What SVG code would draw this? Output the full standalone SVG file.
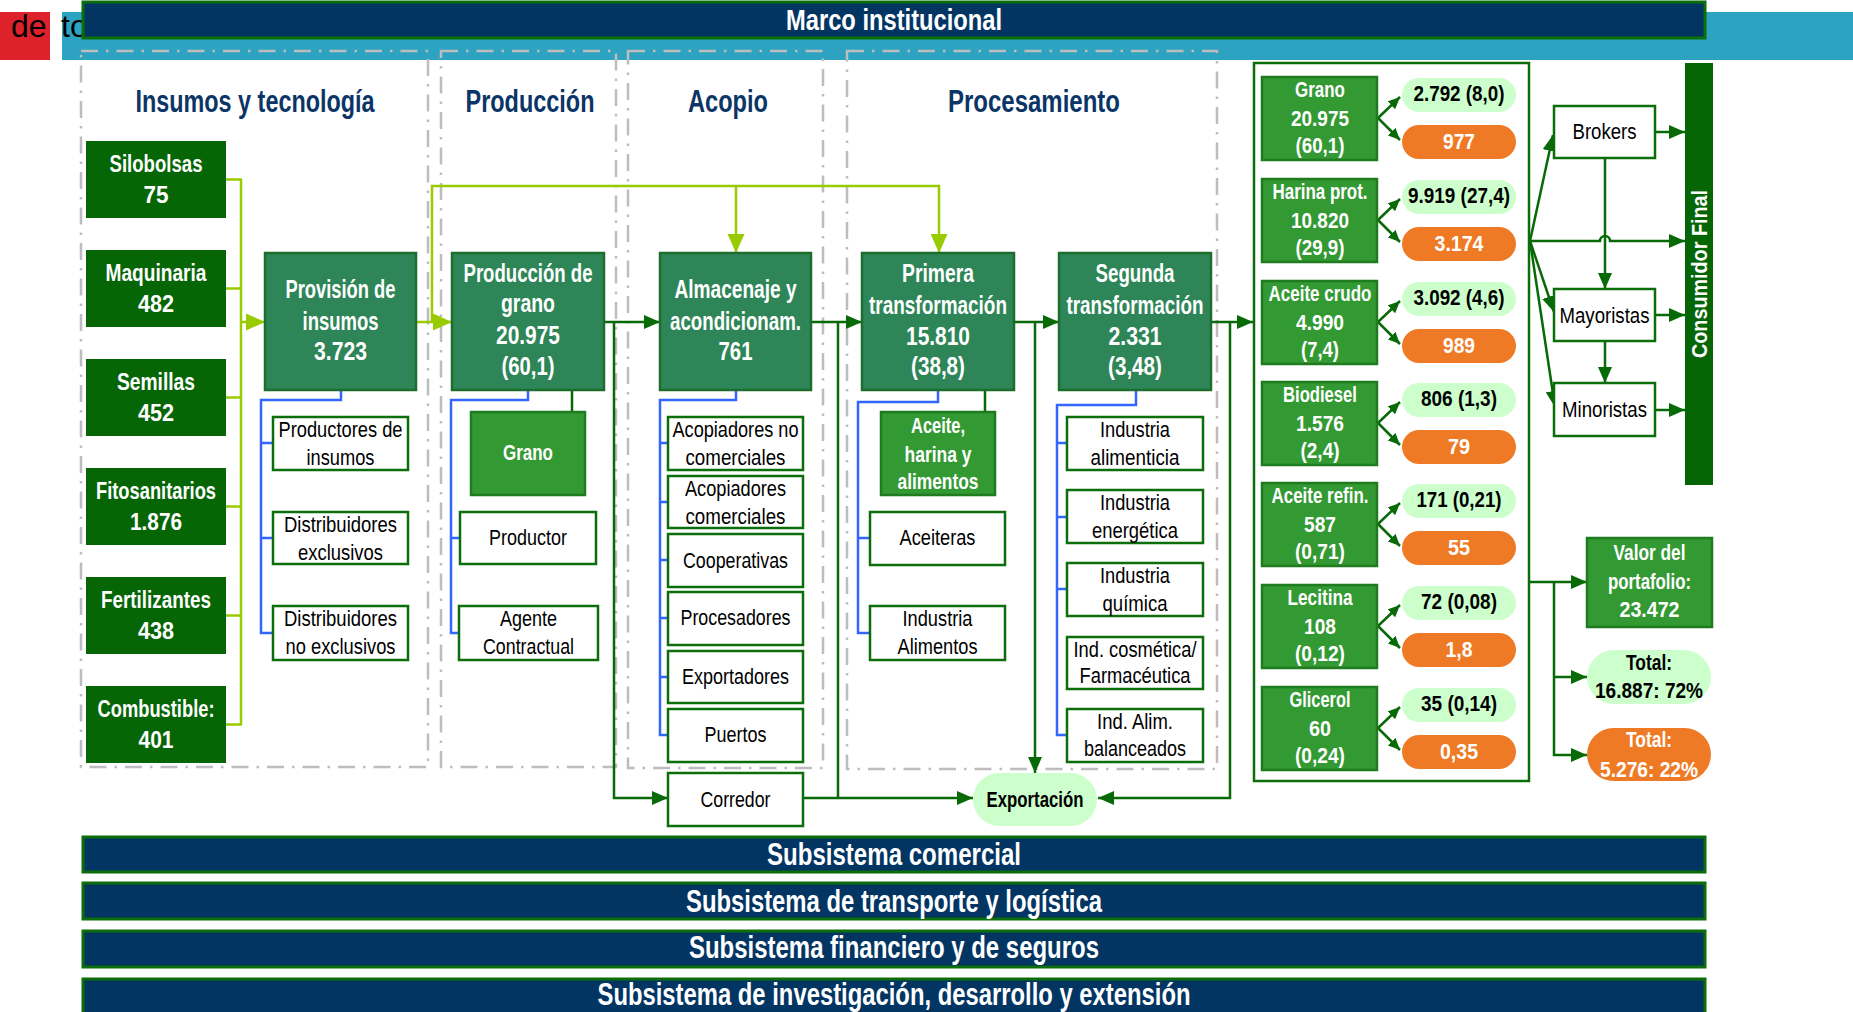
<svg xmlns="http://www.w3.org/2000/svg" width="1853" height="1012" viewBox="0 0 1853 1012">
<defs>
<style>
text{font-family:"Liberation Sans",Arial,Helvetica,sans-serif;text-anchor:middle}
.wt{fill:#fff;font-weight:bold}
.kt{fill:#000}
.kb{fill:#000;font-weight:bold}
.hd{fill:#0b3566;font-weight:bold;font-size:31px}
.bt{fill:#fff;font-weight:bold;font-size:32px}
.f21{font-size:21px}.f22{font-size:22px}.f24{font-size:24px}.f26{font-size:26px}
.bar{fill:#033563;stroke:#0b6e0b;stroke-width:3}
.frame{fill:none;stroke:#bdbdbd;stroke-width:2.5;stroke-dasharray:17 8 2.5 8}
.inp{fill:#066606}
.main{fill:#2e8658;stroke:#1d6e2c;stroke-width:2.5}
.med{fill:#339933;stroke:#1e7b1e;stroke-width:2.5}
.sub{fill:#fff;stroke:#0b6e0b;stroke-width:2.5}
.pg{fill:#ccffcc}
.po{fill:#ef7a25}
.cg{fill:none;stroke:#076a07;stroke-width:2.5}
.cl{fill:none;stroke:#99cc00;stroke-width:2.5}
.cb{fill:none;stroke:#3366ff;stroke-width:2.5}
</style>
<marker id="ag" viewBox="0 0 16 14" refX="16" refY="7" markerWidth="16" markerHeight="14" markerUnits="userSpaceOnUse" orient="auto"><path d="M0,0L16,7L0,14z" fill="#076a07"/></marker>
<marker id="as" viewBox="0 0 12 11" refX="12" refY="5.5" markerWidth="12" markerHeight="11" markerUnits="userSpaceOnUse" orient="auto"><path d="M0,0L12,5.5L0,11z" fill="#076a07"/></marker>
<marker id="al" viewBox="0 0 19 17" refX="19" refY="8.5" markerWidth="19" markerHeight="17" markerUnits="userSpaceOnUse" orient="auto"><path d="M0,0L19,8.5L0,17z" fill="#99cc00"/></marker>
</defs>

<!-- page strip behind the title bar -->
<rect x="0" y="12" width="50" height="48" fill="#dd222b"/>
<rect x="62" y="12" width="1791" height="48" fill="#2da3c1"/>
<text x="11" y="37" font-size="32" style="text-anchor:start" fill="#000">de<tspan x="61">todos</tspan></text>

<!-- stage frames -->
<g id="frames">
<rect class="frame" x="81" y="51" width="347" height="716"/>
<rect class="frame" x="441" y="51" width="175" height="716"/>
<rect class="frame" x="628" y="51" width="195" height="717"/>
<rect class="frame" x="847" y="51" width="370" height="718"/>
</g>

<!-- title bar -->
<g id="marco">
<rect class="bar" x="83" y="2" width="1622" height="36"/>
<text class="wt" x="894" y="30" font-size="30" textLength="216" lengthAdjust="spacingAndGlyphs">Marco institucional</text>
</g>

<!-- column headings -->
<g id="headings">
<text class="hd" x="255" y="112" textLength="239" lengthAdjust="spacingAndGlyphs">Insumos y tecnología</text>
<text class="hd" x="530" y="112" textLength="129" lengthAdjust="spacingAndGlyphs">Producción</text>
<text class="hd" x="728" y="112" textLength="80" lengthAdjust="spacingAndGlyphs">Acopio</text>
<text class="hd" x="1034" y="112" textLength="172" lengthAdjust="spacingAndGlyphs">Procesamiento</text>
</g>

<!-- connectors -->
<g id="connectors">
<!-- inputs bus -->
<path class="cl" d="M226,179.5H241M226,288.5H241M226,397.5H241M226,506.5H241M226,615.5H241M226,724.5H241M241,178.5V725.5"/>
<path class="cl" d="M241,322H265" marker-end="url(#al)"/>
<path class="cl" d="M416,322H452" marker-end="url(#al)"/>
<path class="cl" d="M432,322V186H939V253" marker-end="url(#al)"/>
<path class="cl" d="M736,186V253" marker-end="url(#al)"/>
<!-- main chain -->
<path class="cg" d="M604,322H660" marker-end="url(#ag)"/>
<path class="cg" d="M614,322V798H668" marker-end="url(#ag)"/>
<path class="cg" d="M811,322H862" marker-end="url(#ag)"/>
<path class="cg" d="M838,322V798"/>
<path class="cg" d="M803,798H973" marker-end="url(#ag)"/>
<path class="cg" d="M1014,322H1059" marker-end="url(#ag)"/>
<path class="cg" d="M1035,322V773" marker-end="url(#ag)"/>
<path class="cg" d="M1211,322H1253" marker-end="url(#ag)"/>
<path class="cg" d="M1230,322V798H1098" marker-end="url(#ag)"/>
<path class="cg" d="M572,390V412M985,390V412"/>
<!-- actor trees -->
<path class="cb" d="M341,390V400H261V633H273M261,443H273M261,538H273"/>
<path class="cb" d="M528,390V400H451V633H459M451,538H460"/>
<path class="cb" d="M736,390V400H660V735H668M660,443H668M660,502H668M660,560H668M660,618H668M660,677H668"/>
<path class="cb" d="M938,390V402H858V633H870M858,538H870"/>
<path class="cb" d="M1136,390V405H1057V735H1067M1057,443H1067M1057,517H1067M1057,589H1067"/>
<!-- product splits -->
<g class="cg">
<path d="M1378,118L1400,97" marker-end="url(#as)"/><path d="M1378,118L1400,140" marker-end="url(#as)"/>
<path d="M1378,220L1400,199" marker-end="url(#as)"/><path d="M1378,220L1400,242" marker-end="url(#as)"/>
<path d="M1378,322L1400,301" marker-end="url(#as)"/><path d="M1378,322L1400,344" marker-end="url(#as)"/>
<path d="M1378,423L1400,402" marker-end="url(#as)"/><path d="M1378,423L1400,445" marker-end="url(#as)"/>
<path d="M1378,524L1400,503" marker-end="url(#as)"/><path d="M1378,524L1400,546" marker-end="url(#as)"/>
<path d="M1378,626L1400,605" marker-end="url(#as)"/><path d="M1378,626L1400,648" marker-end="url(#as)"/>
<path d="M1378,728L1400,707" marker-end="url(#as)"/><path d="M1378,728L1400,750" marker-end="url(#as)"/>
</g>
<!-- distribution -->
<path class="cg" d="M1530,241L1553,135" marker-end="url(#ag)"/>
<path class="cg" d="M1530,241L1554,312" marker-end="url(#ag)"/>
<path class="cg" d="M1530,241L1555,407" marker-end="url(#ag)"/>
<path class="cg" d="M1530,241H1600a5,5 0 0 1 10,0H1685" marker-end="url(#ag)"/>
<path class="cg" d="M1605,158V289" marker-end="url(#ag)"/>
<path class="cg" d="M1605,341V383" marker-end="url(#ag)"/>
<path class="cg" d="M1655,132H1685" marker-end="url(#ag)"/>
<path class="cg" d="M1655,315H1685" marker-end="url(#ag)"/>
<path class="cg" d="M1655,410H1685" marker-end="url(#ag)"/>
<path class="cg" d="M1530,582H1587" marker-end="url(#ag)"/>
<path class="cg" d="M1554,582V755H1587" marker-end="url(#ag)"/>
<path class="cg" d="M1554,677H1587" marker-end="url(#ag)"/>
</g>

<!-- inputs -->
<g id="silobolsas"><rect class="inp" x="86" y="141" width="140" height="77"/><text class="wt f24" x="156" y="172" textLength="93" lengthAdjust="spacingAndGlyphs">Silobolsas</text><text class="wt f24" x="156" y="203" textLength="25" lengthAdjust="spacingAndGlyphs">75</text></g>
<g id="maquinaria"><rect class="inp" x="86" y="250" width="140" height="77"/><text class="wt f24" x="156" y="281" textLength="101" lengthAdjust="spacingAndGlyphs">Maquinaria</text><text class="wt f24" x="156" y="312" textLength="36" lengthAdjust="spacingAndGlyphs">482</text></g>
<g id="semillas"><rect class="inp" x="86" y="359" width="140" height="77"/><text class="wt f24" x="156" y="390" textLength="78" lengthAdjust="spacingAndGlyphs">Semillas</text><text class="wt f24" x="156" y="421" textLength="36" lengthAdjust="spacingAndGlyphs">452</text></g>
<g id="fitosanitarios"><rect class="inp" x="86" y="468" width="140" height="77"/><text class="wt f24" x="156" y="499" textLength="120" lengthAdjust="spacingAndGlyphs">Fitosanitarios</text><text class="wt f24" x="156" y="530" textLength="52" lengthAdjust="spacingAndGlyphs">1.876</text></g>
<g id="fertilizantes"><rect class="inp" x="86" y="577" width="140" height="77"/><text class="wt f24" x="156" y="608" textLength="110" lengthAdjust="spacingAndGlyphs">Fertilizantes</text><text class="wt f24" x="156" y="639" textLength="36" lengthAdjust="spacingAndGlyphs">438</text></g>
<g id="combustible"><rect class="inp" x="86" y="686" width="140" height="77"/><text class="wt f24" x="156" y="717" textLength="117" lengthAdjust="spacingAndGlyphs">Combustible:</text><text class="wt f24" x="156" y="748" textLength="35" lengthAdjust="spacingAndGlyphs">401</text></g>

<!-- main stages -->
<g id="provision"><rect class="main" x="265" y="253" width="151" height="137"/>
<text class="wt f26" x="340.5" y="298" textLength="110" lengthAdjust="spacingAndGlyphs">Provisión de</text>
<text class="wt f26" x="340.5" y="330" textLength="76" lengthAdjust="spacingAndGlyphs">insumos</text>
<text class="wt f26" x="340.5" y="360" textLength="53" lengthAdjust="spacingAndGlyphs">3.723</text></g>
<g id="produccion"><rect class="main" x="452" y="253" width="152" height="137"/>
<text class="wt f26" x="528" y="282" textLength="129" lengthAdjust="spacingAndGlyphs">Producción de</text>
<text class="wt f26" x="528" y="312" textLength="54" lengthAdjust="spacingAndGlyphs">grano</text>
<text class="wt f26" x="528" y="344" textLength="64" lengthAdjust="spacingAndGlyphs">20.975</text>
<text class="wt f26" x="528" y="375" textLength="53" lengthAdjust="spacingAndGlyphs">(60,1)</text></g>
<g id="almacenaje"><rect class="main" x="660" y="253" width="151" height="137"/>
<text class="wt f26" x="735.5" y="298" textLength="122" lengthAdjust="spacingAndGlyphs">Almacenaje y</text>
<text class="wt f26" x="735.5" y="330" textLength="131" lengthAdjust="spacingAndGlyphs">acondicionam.</text>
<text class="wt f26" x="735.5" y="360" textLength="34" lengthAdjust="spacingAndGlyphs">761</text></g>
<g id="primera"><rect class="main" x="862" y="253" width="152" height="137"/>
<text class="wt f26" x="938" y="282" textLength="72" lengthAdjust="spacingAndGlyphs">Primera</text>
<text class="wt f26" x="938" y="314" textLength="138" lengthAdjust="spacingAndGlyphs">transformación</text>
<text class="wt f26" x="938" y="345" textLength="64" lengthAdjust="spacingAndGlyphs">15.810</text>
<text class="wt f26" x="938" y="375" textLength="54" lengthAdjust="spacingAndGlyphs">(38,8)</text></g>
<g id="segunda"><rect class="main" x="1059" y="253" width="152" height="137"/>
<text class="wt f26" x="1135" y="282" textLength="79" lengthAdjust="spacingAndGlyphs">Segunda</text>
<text class="wt f26" x="1135" y="314" textLength="137" lengthAdjust="spacingAndGlyphs">transformación</text>
<text class="wt f26" x="1135" y="345" textLength="53" lengthAdjust="spacingAndGlyphs">2.331</text>
<text class="wt f26" x="1135" y="375" textLength="54" lengthAdjust="spacingAndGlyphs">(3,48)</text></g>

<!-- actors: inputs -->
<g id="productores-insumos"><rect class="sub" x="273" y="417" width="135" height="53"/><text class="kt f22" x="340.5" y="437" textLength="124" lengthAdjust="spacingAndGlyphs">Productores de</text><text class="kt f22" x="340.5" y="465" textLength="68" lengthAdjust="spacingAndGlyphs">insumos</text></g>
<g id="distribuidores-exclusivos"><rect class="sub" x="273" y="512" width="135" height="52"/><text class="kt f22" x="340.5" y="532" textLength="113" lengthAdjust="spacingAndGlyphs">Distribuidores</text><text class="kt f22" x="340.5" y="560" textLength="85" lengthAdjust="spacingAndGlyphs">exclusivos</text></g>
<g id="distribuidores-no-exclusivos"><rect class="sub" x="273" y="606" width="135" height="54"/><text class="kt f22" x="340.5" y="626" textLength="113" lengthAdjust="spacingAndGlyphs">Distribuidores</text><text class="kt f22" x="340.5" y="654" textLength="110" lengthAdjust="spacingAndGlyphs">no exclusivos</text></g>

<!-- actors: production -->
<g id="grano-prod"><rect class="med" x="471" y="412" width="114" height="83"/><text class="wt f22" x="528" y="460" textLength="50" lengthAdjust="spacingAndGlyphs">Grano</text></g>
<g id="productor"><rect class="sub" x="460" y="512" width="136" height="52"/><text class="kt f22" x="528" y="545" textLength="78" lengthAdjust="spacingAndGlyphs">Productor</text></g>
<g id="agente"><rect class="sub" x="459" y="606" width="139" height="54"/><text class="kt f22" x="528.5" y="626" textLength="57" lengthAdjust="spacingAndGlyphs">Agente</text><text class="kt f22" x="528.5" y="654" textLength="91" lengthAdjust="spacingAndGlyphs">Contractual</text></g>

<!-- actors: storage -->
<g id="acopiadores-no-comerciales"><rect class="sub" x="668" y="417" width="135" height="53"/><text class="kt f22" x="735.5" y="437" textLength="126" lengthAdjust="spacingAndGlyphs">Acopiadores no</text><text class="kt f22" x="735.5" y="465" textLength="100" lengthAdjust="spacingAndGlyphs">comerciales</text></g>
<g id="acopiadores-comerciales"><rect class="sub" x="668" y="476" width="135" height="52"/><text class="kt f22" x="735.5" y="496" textLength="101" lengthAdjust="spacingAndGlyphs">Acopiadores</text><text class="kt f22" x="735.5" y="524" textLength="100" lengthAdjust="spacingAndGlyphs">comerciales</text></g>
<g id="cooperativas"><rect class="sub" x="668" y="534" width="135" height="53"/><text class="kt f22" x="735.5" y="568" textLength="105" lengthAdjust="spacingAndGlyphs">Cooperativas</text></g>
<g id="procesadores"><rect class="sub" x="668" y="592" width="135" height="53"/><text class="kt f22" x="735.5" y="625" textLength="110" lengthAdjust="spacingAndGlyphs">Procesadores</text></g>
<g id="exportadores"><rect class="sub" x="668" y="651" width="135" height="52"/><text class="kt f22" x="735.5" y="684" textLength="107" lengthAdjust="spacingAndGlyphs">Exportadores</text></g>
<g id="puertos"><rect class="sub" x="668" y="709" width="135" height="53"/><text class="kt f22" x="735.5" y="742" textLength="62" lengthAdjust="spacingAndGlyphs">Puertos</text></g>
<g id="corredor"><rect class="sub" x="668" y="773" width="135" height="53"/><text class="kt f22" x="735.5" y="807" textLength="70" lengthAdjust="spacingAndGlyphs">Corredor</text></g>

<!-- actors: first processing -->
<g id="aceite-harina"><rect class="med" x="881" y="412" width="114" height="83"/>
<text class="wt f22" x="938" y="433" textLength="54" lengthAdjust="spacingAndGlyphs">Aceite,</text>
<text class="wt f22" x="938" y="462" textLength="67" lengthAdjust="spacingAndGlyphs">harina y</text>
<text class="wt f22" x="938" y="489" textLength="81" lengthAdjust="spacingAndGlyphs">alimentos</text></g>
<g id="aceiteras"><rect class="sub" x="870" y="512" width="135" height="53"/><text class="kt f22" x="937.5" y="545" textLength="76" lengthAdjust="spacingAndGlyphs">Aceiteras</text></g>
<g id="industria-alimentos"><rect class="sub" x="870" y="606" width="135" height="54"/><text class="kt f22" x="937.5" y="626" textLength="70" lengthAdjust="spacingAndGlyphs">Industria</text><text class="kt f22" x="937.5" y="654" textLength="80" lengthAdjust="spacingAndGlyphs">Alimentos</text></g>

<!-- actors: second processing -->
<g id="industria-alimenticia"><rect class="sub" x="1067" y="417" width="136" height="53"/><text class="kt f22" x="1135" y="437" textLength="70" lengthAdjust="spacingAndGlyphs">Industria</text><text class="kt f22" x="1135" y="465" textLength="89" lengthAdjust="spacingAndGlyphs">alimenticia</text></g>
<g id="industria-energetica"><rect class="sub" x="1067" y="490" width="136" height="53"/><text class="kt f22" x="1135" y="510" textLength="70" lengthAdjust="spacingAndGlyphs">Industria</text><text class="kt f22" x="1135" y="538" textLength="86" lengthAdjust="spacingAndGlyphs">energética</text></g>
<g id="industria-quimica"><rect class="sub" x="1067" y="563" width="136" height="53"/><text class="kt f22" x="1135" y="583" textLength="70" lengthAdjust="spacingAndGlyphs">Industria</text><text class="kt f22" x="1135" y="611" textLength="65" lengthAdjust="spacingAndGlyphs">química</text></g>
<g id="ind-cosmetica"><rect class="sub" x="1067" y="637" width="136" height="52"/><text class="kt f22" x="1135" y="657" textLength="123" lengthAdjust="spacingAndGlyphs">Ind. cosmética/</text><text class="kt f22" x="1135" y="683" textLength="111" lengthAdjust="spacingAndGlyphs">Farmacéutica</text></g>
<g id="ind-balanceados"><rect class="sub" x="1067" y="709" width="136" height="53"/><text class="kt f22" x="1135" y="729" textLength="76" lengthAdjust="spacingAndGlyphs">Ind. Alim.</text><text class="kt f22" x="1135" y="756" textLength="102" lengthAdjust="spacingAndGlyphs">balanceados</text></g>

<!-- export -->
<g id="exportacion"><rect class="pg" x="973" y="773" width="124" height="53" rx="26.5"/><text class="kb f22" x="1035" y="807" textLength="97" lengthAdjust="spacingAndGlyphs">Exportación</text></g>

<!-- products panel -->
<g id="panel"><rect x="1254" y="63" width="275" height="718" fill="none" stroke="#0b6e0b" stroke-width="2.5"/></g>

<g id="p-grano"><rect class="med" x="1262" y="77" width="115" height="83"/>
<text class="wt f22" x="1320" y="97" textLength="50" lengthAdjust="spacingAndGlyphs">Grano</text>
<text class="wt f22" x="1320" y="126" textLength="58" lengthAdjust="spacingAndGlyphs">20.975</text>
<text class="wt f22" x="1320" y="153" textLength="49" lengthAdjust="spacingAndGlyphs">(60,1)</text>
<rect class="pg" x="1402" y="78" width="114" height="34" rx="17"/><text class="kb f22" x="1459" y="101" textLength="91" lengthAdjust="spacingAndGlyphs">2.792 (8,0)</text>
<rect class="po" x="1402" y="125" width="114" height="34" rx="17"/><text class="wt f22" x="1459" y="149" textLength="32" lengthAdjust="spacingAndGlyphs">977</text></g>

<g id="p-harina"><rect class="med" x="1262" y="179" width="115" height="83"/>
<text class="wt f22" x="1320" y="199" textLength="95" lengthAdjust="spacingAndGlyphs">Harina prot.</text>
<text class="wt f22" x="1320" y="228" textLength="58" lengthAdjust="spacingAndGlyphs">10.820</text>
<text class="wt f22" x="1320" y="255" textLength="49" lengthAdjust="spacingAndGlyphs">(29,9)</text>
<rect class="pg" x="1402" y="180" width="114" height="34" rx="17"/><text class="kb f22" x="1459" y="203" textLength="102" lengthAdjust="spacingAndGlyphs">9.919 (27,4)</text>
<rect class="po" x="1402" y="227" width="114" height="34" rx="17"/><text class="wt f22" x="1459" y="251" textLength="49" lengthAdjust="spacingAndGlyphs">3.174</text></g>

<g id="p-aceite-crudo"><rect class="med" x="1262" y="281" width="115" height="83"/>
<text class="wt f22" x="1320" y="301" textLength="103" lengthAdjust="spacingAndGlyphs">Aceite crudo</text>
<text class="wt f22" x="1320" y="330" textLength="48" lengthAdjust="spacingAndGlyphs">4.990</text>
<text class="wt f22" x="1320" y="357" textLength="38" lengthAdjust="spacingAndGlyphs">(7,4)</text>
<rect class="pg" x="1402" y="282" width="114" height="34" rx="17"/><text class="kb f22" x="1459" y="305" textLength="91" lengthAdjust="spacingAndGlyphs">3.092 (4,6)</text>
<rect class="po" x="1402" y="329" width="114" height="34" rx="17"/><text class="wt f22" x="1459" y="353" textLength="32" lengthAdjust="spacingAndGlyphs">989</text></g>

<g id="p-biodiesel"><rect class="med" x="1262" y="382" width="115" height="83"/>
<text class="wt f22" x="1320" y="402" textLength="74" lengthAdjust="spacingAndGlyphs">Biodiesel</text>
<text class="wt f22" x="1320" y="431" textLength="48" lengthAdjust="spacingAndGlyphs">1.576</text>
<text class="wt f22" x="1320" y="458" textLength="39" lengthAdjust="spacingAndGlyphs">(2,4)</text>
<rect class="pg" x="1402" y="383" width="114" height="34" rx="17"/><text class="kb f22" x="1459" y="406" textLength="76" lengthAdjust="spacingAndGlyphs">806 (1,3)</text>
<rect class="po" x="1402" y="430" width="114" height="34" rx="17"/><text class="wt f22" x="1459" y="454" textLength="22" lengthAdjust="spacingAndGlyphs">79</text></g>

<g id="p-aceite-refinado"><rect class="med" x="1262" y="483" width="115" height="83"/>
<text class="wt f22" x="1320" y="503" textLength="97" lengthAdjust="spacingAndGlyphs">Aceite refin.</text>
<text class="wt f22" x="1320" y="532" textLength="32" lengthAdjust="spacingAndGlyphs">587</text>
<text class="wt f22" x="1320" y="559" textLength="50" lengthAdjust="spacingAndGlyphs">(0,71)</text>
<rect class="pg" x="1402" y="484" width="114" height="34" rx="17"/><text class="kb f22" x="1459" y="507" textLength="85" lengthAdjust="spacingAndGlyphs">171 (0,21)</text>
<rect class="po" x="1402" y="531" width="114" height="34" rx="17"/><text class="wt f22" x="1459" y="555" textLength="22" lengthAdjust="spacingAndGlyphs">55</text></g>

<g id="p-lecitina"><rect class="med" x="1262" y="585" width="115" height="83"/>
<text class="wt f22" x="1320" y="605" textLength="65" lengthAdjust="spacingAndGlyphs">Lecitina</text>
<text class="wt f22" x="1320" y="634" textLength="32" lengthAdjust="spacingAndGlyphs">108</text>
<text class="wt f22" x="1320" y="661" textLength="50" lengthAdjust="spacingAndGlyphs">(0,12)</text>
<rect class="pg" x="1402" y="586" width="114" height="34" rx="17"/><text class="kb f22" x="1459" y="609" textLength="76" lengthAdjust="spacingAndGlyphs">72 (0,08)</text>
<rect class="po" x="1402" y="633" width="114" height="34" rx="17"/><text class="wt f22" x="1459" y="657" textLength="27" lengthAdjust="spacingAndGlyphs">1,8</text></g>

<g id="p-glicerol"><rect class="med" x="1262" y="687" width="115" height="83"/>
<text class="wt f22" x="1320" y="707" textLength="61" lengthAdjust="spacingAndGlyphs">Glicerol</text>
<text class="wt f22" x="1320" y="736" textLength="22" lengthAdjust="spacingAndGlyphs">60</text>
<text class="wt f22" x="1320" y="763" textLength="50" lengthAdjust="spacingAndGlyphs">(0,24)</text>
<rect class="pg" x="1402" y="688" width="114" height="34" rx="17"/><text class="kb f22" x="1459" y="711" textLength="76" lengthAdjust="spacingAndGlyphs">35 (0,14)</text>
<rect class="po" x="1402" y="735" width="114" height="34" rx="17"/><text class="wt f22" x="1459" y="759" textLength="38" lengthAdjust="spacingAndGlyphs">0,35</text></g>

<!-- distribution -->
<g id="brokers"><rect class="sub" x="1554" y="106" width="101" height="52"/><text class="kt f22" x="1604.5" y="139" textLength="64" lengthAdjust="spacingAndGlyphs">Brokers</text></g>
<g id="mayoristas"><rect class="sub" x="1554" y="289" width="101" height="52"/><text class="kt f22" x="1604.5" y="323" textLength="90" lengthAdjust="spacingAndGlyphs">Mayoristas</text></g>
<g id="minoristas"><rect class="sub" x="1554" y="383" width="101" height="53"/><text class="kt f22" x="1604.5" y="417" textLength="85" lengthAdjust="spacingAndGlyphs">Minoristas</text></g>
<g id="consumidor"><rect class="inp" x="1685" y="63" width="28" height="422"/><text class="wt f22" transform="translate(1707,274) rotate(-90)" textLength="168" lengthAdjust="spacingAndGlyphs">Consumidor Final</text></g>

<g id="valor"><rect class="med" x="1587" y="538" width="125" height="89"/>
<text class="wt f22" x="1649.5" y="560" textLength="72" lengthAdjust="spacingAndGlyphs">Valor del</text>
<text class="wt f22" x="1649.5" y="589" textLength="83" lengthAdjust="spacingAndGlyphs">portafolio:</text>
<text class="wt f22" x="1649.5" y="617" textLength="60" lengthAdjust="spacingAndGlyphs">23.472</text></g>
<g id="total-mercado"><rect class="pg" x="1587" y="650" width="124" height="54" rx="27"/>
<text class="kb f22" x="1649" y="670" textLength="46" lengthAdjust="spacingAndGlyphs">Total:</text>
<text class="kb f22" x="1649" y="698" textLength="108" lengthAdjust="spacingAndGlyphs">16.887: 72%</text></g>
<g id="total-exportado"><rect class="po" x="1587" y="728" width="124" height="53" rx="26.5"/>
<text class="wt f22" x="1649" y="747" textLength="46" lengthAdjust="spacingAndGlyphs">Total:</text>
<text class="wt f22" x="1649" y="777" textLength="98" lengthAdjust="spacingAndGlyphs">5.276: 22%</text></g>

<!-- support subsystems -->
<g id="sub-comercial"><rect class="bar" x="83" y="837" width="1622" height="35"/><text class="bt" x="894" y="865" textLength="254" lengthAdjust="spacingAndGlyphs">Subsistema comercial</text></g>
<g id="sub-transporte"><rect class="bar" x="83" y="883" width="1622" height="36"/><text class="bt" x="894" y="912" textLength="416" lengthAdjust="spacingAndGlyphs">Subsistema de transporte y logística</text></g>
<g id="sub-financiero"><rect class="bar" x="83" y="931" width="1622" height="36"/><text class="bt" x="894" y="958" textLength="410" lengthAdjust="spacingAndGlyphs">Subsistema financiero y de seguros</text></g>
<g id="sub-investigacion"><rect class="bar" x="83" y="979" width="1622" height="40"/><text class="bt" x="894" y="1005" textLength="593" lengthAdjust="spacingAndGlyphs">Subsistema de investigación, desarrollo y extensión</text></g>
</svg>
